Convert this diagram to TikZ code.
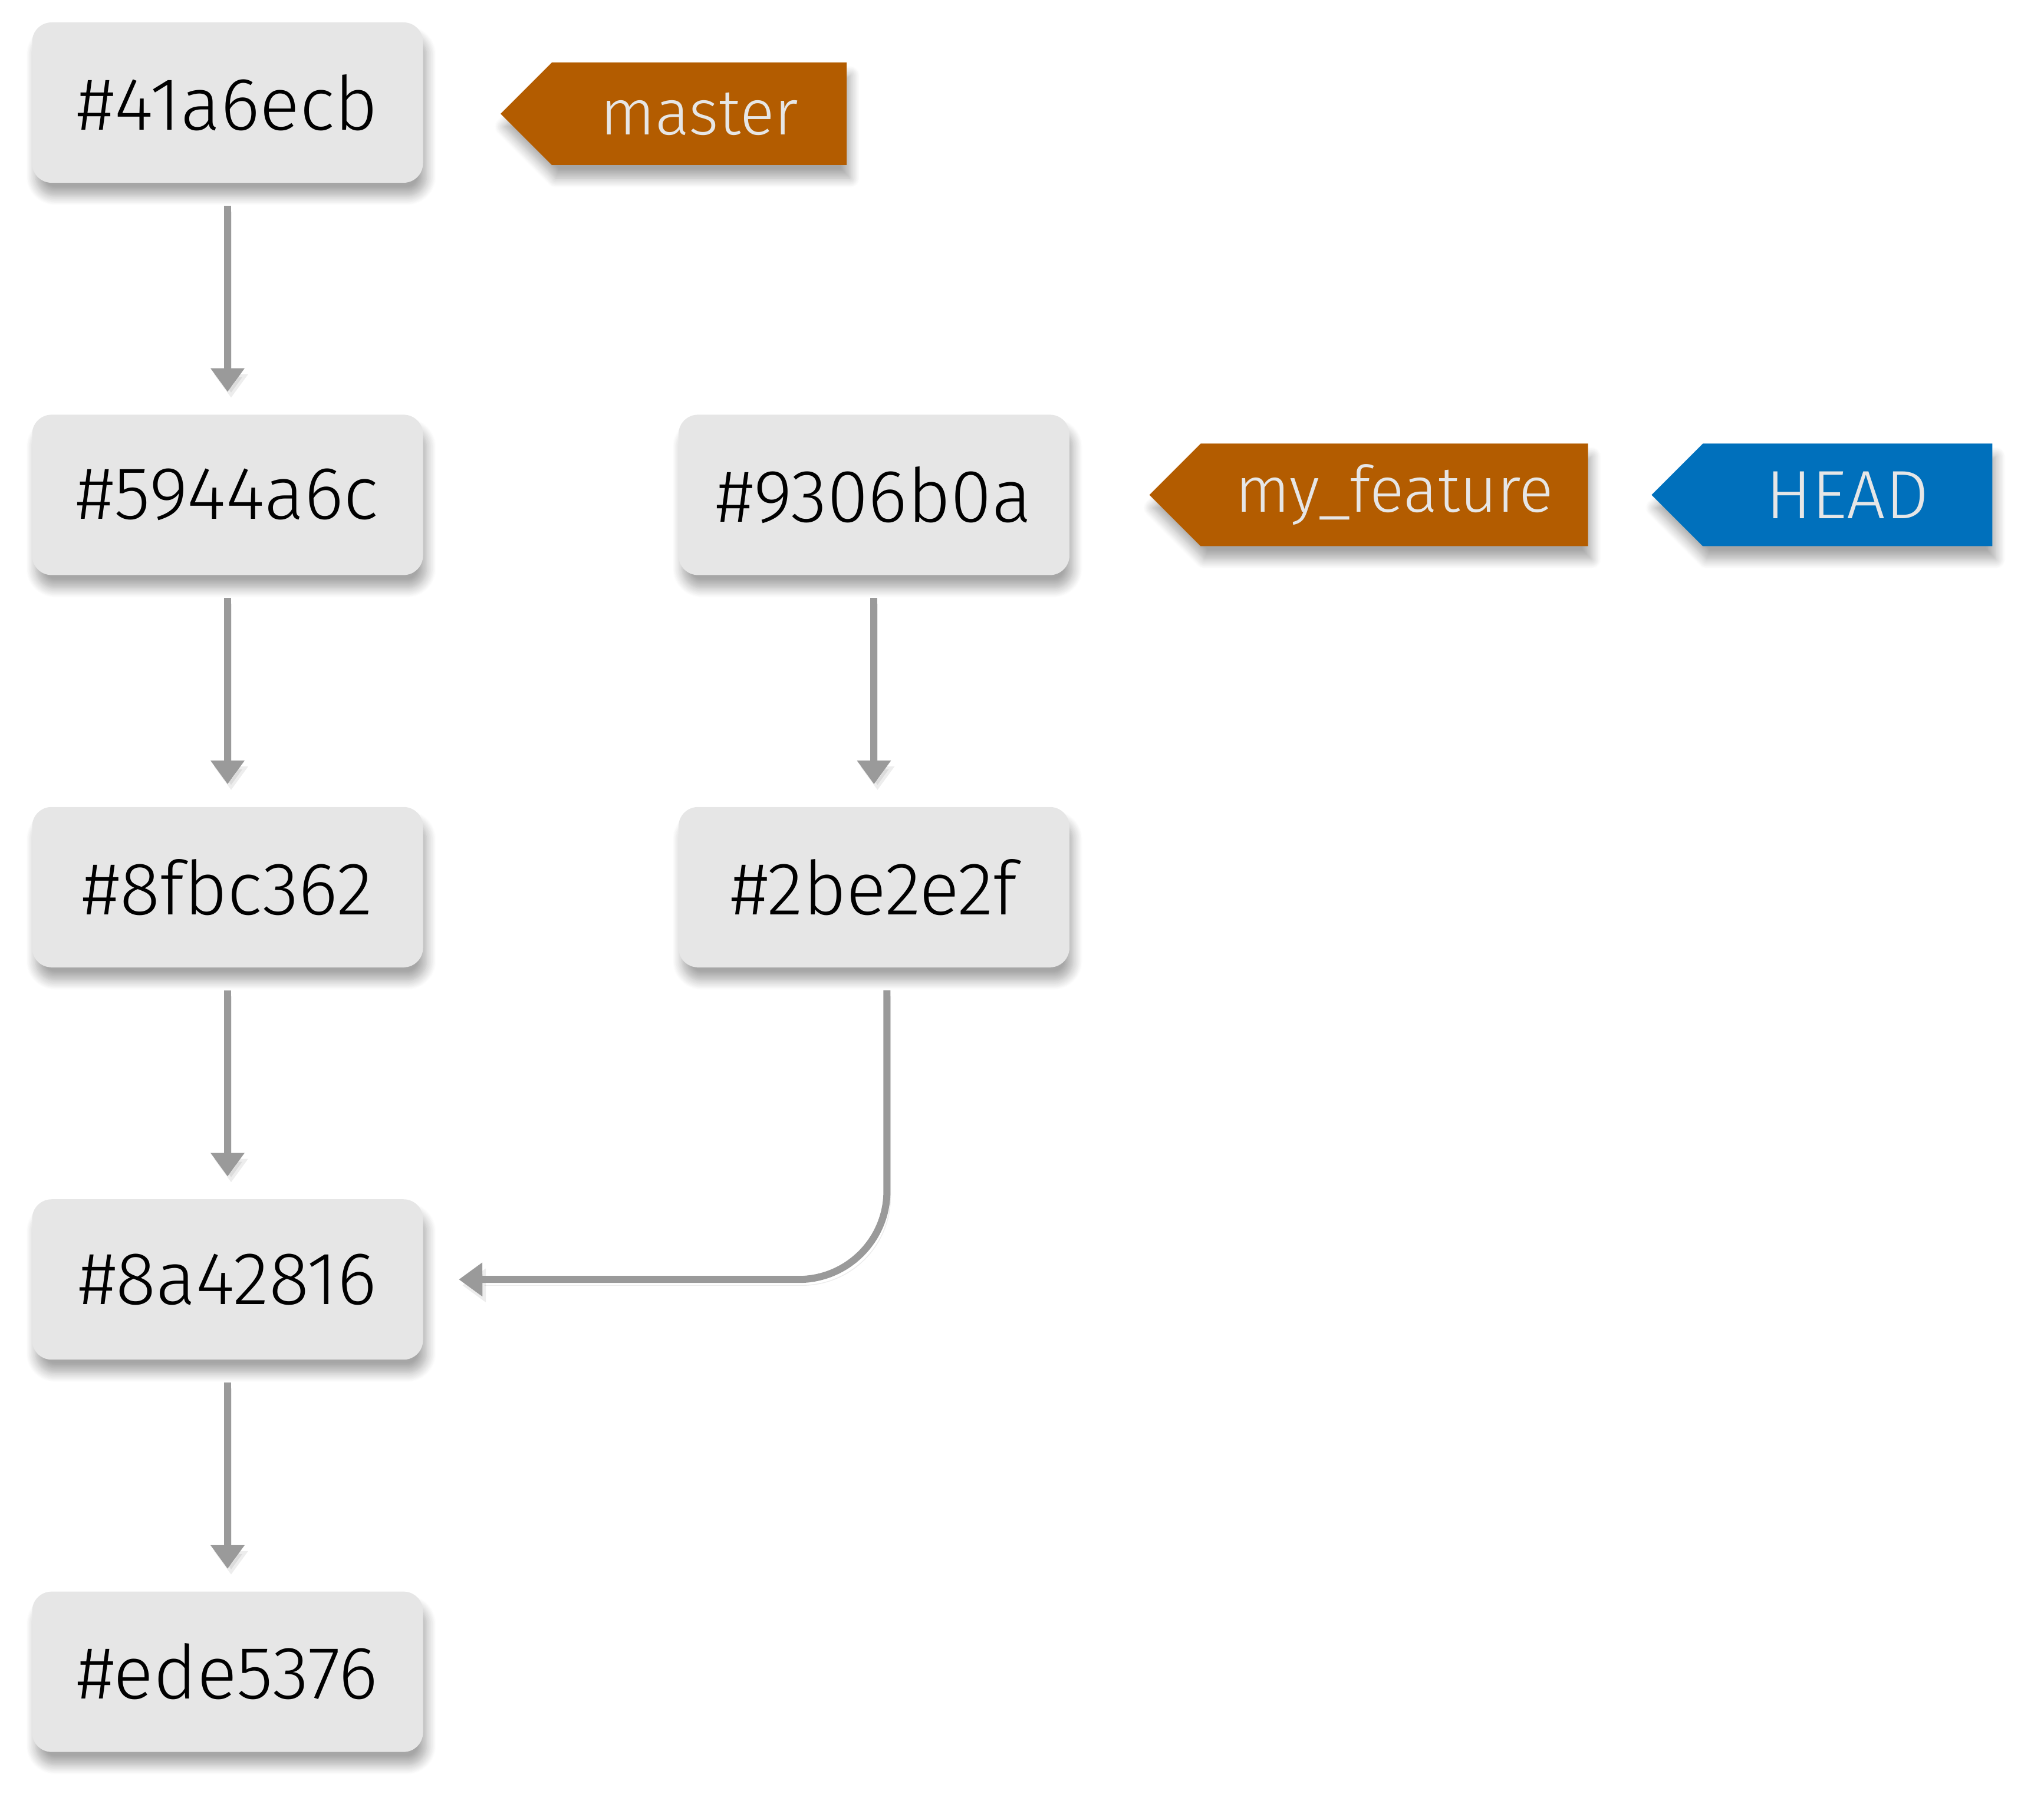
\documentclass[tikz,border=0pt]{standalone}
\usepackage{fontspec}
\setmainfont{Fira Sans}[UprightFont=* Light]
\usetikzlibrary{positioning, arrows.meta, shapes.symbols, shadows.blur}

\definecolor{commitgray}{HTML}{E6E6E6}
\definecolor{linkgray}{HTML}{9A9A9A}
\definecolor{branchorange}{HTML}{B35C00}
\definecolor{headblue}{HTML}{0070BC}

\begin{document}
\begin{tikzpicture}[
    node distance=3.92cm and 4.32cm,
    softshadow/.style={
        blur shadow={shadow xshift=0.06cm, shadow yshift=-0.22cm,
            shadow blur steps=12, shadow blur radius=0.16cm, shadow opacity=35}
    },
    commit/.style={
        fill=commitgray,
        rounded corners=0.33cm,
        minimum width=6.63cm,
        minimum height=2.72cm,
        font=\fontsize{36}{42}\selectfont,
        softshadow
    },
    ref/.style={
        signal,
        signal to=west,
        signal pointer angle=90,
        minimum height=1.74cm,
        text=commitgray,
        font=\fontsize{31}{37}\selectfont,
        softshadow
    },
    arrow/.style={
        -{Triangle[width=0.55cm, length=0.4cm]},
        draw=linkgray,
        line width=0.12cm,
        shorten <=0.38cm,
        shorten >=0.38cm,
        preaction={draw=black, draw opacity=0.07, fill opacity=0.07,
            transform canvas={xshift=0.06cm, yshift=-0.1cm}}
    }
]

\useasboundingbox (0,0) rectangle (34.67,-30.43);

% commits on master
\node[commit] (c41a) at (3.86,-1.74) {\#41a6ecb};
\node[commit, below=of c41a] (c594) {\#5944a6c};
\node[commit, below=of c594] (c8fb) {\#8fbc362};
\node[commit, below=of c8fb] (c8a4) {\#8a42816};
\node[commit, below=of c8a4] (cede) {\#ede5376};

% commits on the feature branch
\node[commit, right=of c594] (c930) {\#9306b0a};
\node[commit, below=of c930] (c2be) {\#2be2e2f};

% refs
\node[ref, fill=branchorange, minimum width=5.87cm, right=1.3cm of c41a, yshift=-0.19cm] (master) {master};
\node[ref, fill=branchorange, minimum width=7.44cm, right=1.34cm of c930] (feature) {my\_feature};
\node[ref, fill=headblue, minimum width=5.78cm, right=1.06cm of feature] (head) {\fontsize{33}{39}\selectfont HEAD};

\draw[arrow] (c41a) -- (c594);
\draw[arrow] (c594) -- (c8fb);
\draw[arrow] (c8fb) -- (c8a4);
\draw[arrow] (c8a4) -- (cede);
\draw[arrow] (c930) -- (c2be);
\draw[arrow, rounded corners=1.5cm, shorten >=0.6cm] ([xshift=0.22cm]c2be.south) |- (c8a4.east);

\end{tikzpicture}
\end{document}
